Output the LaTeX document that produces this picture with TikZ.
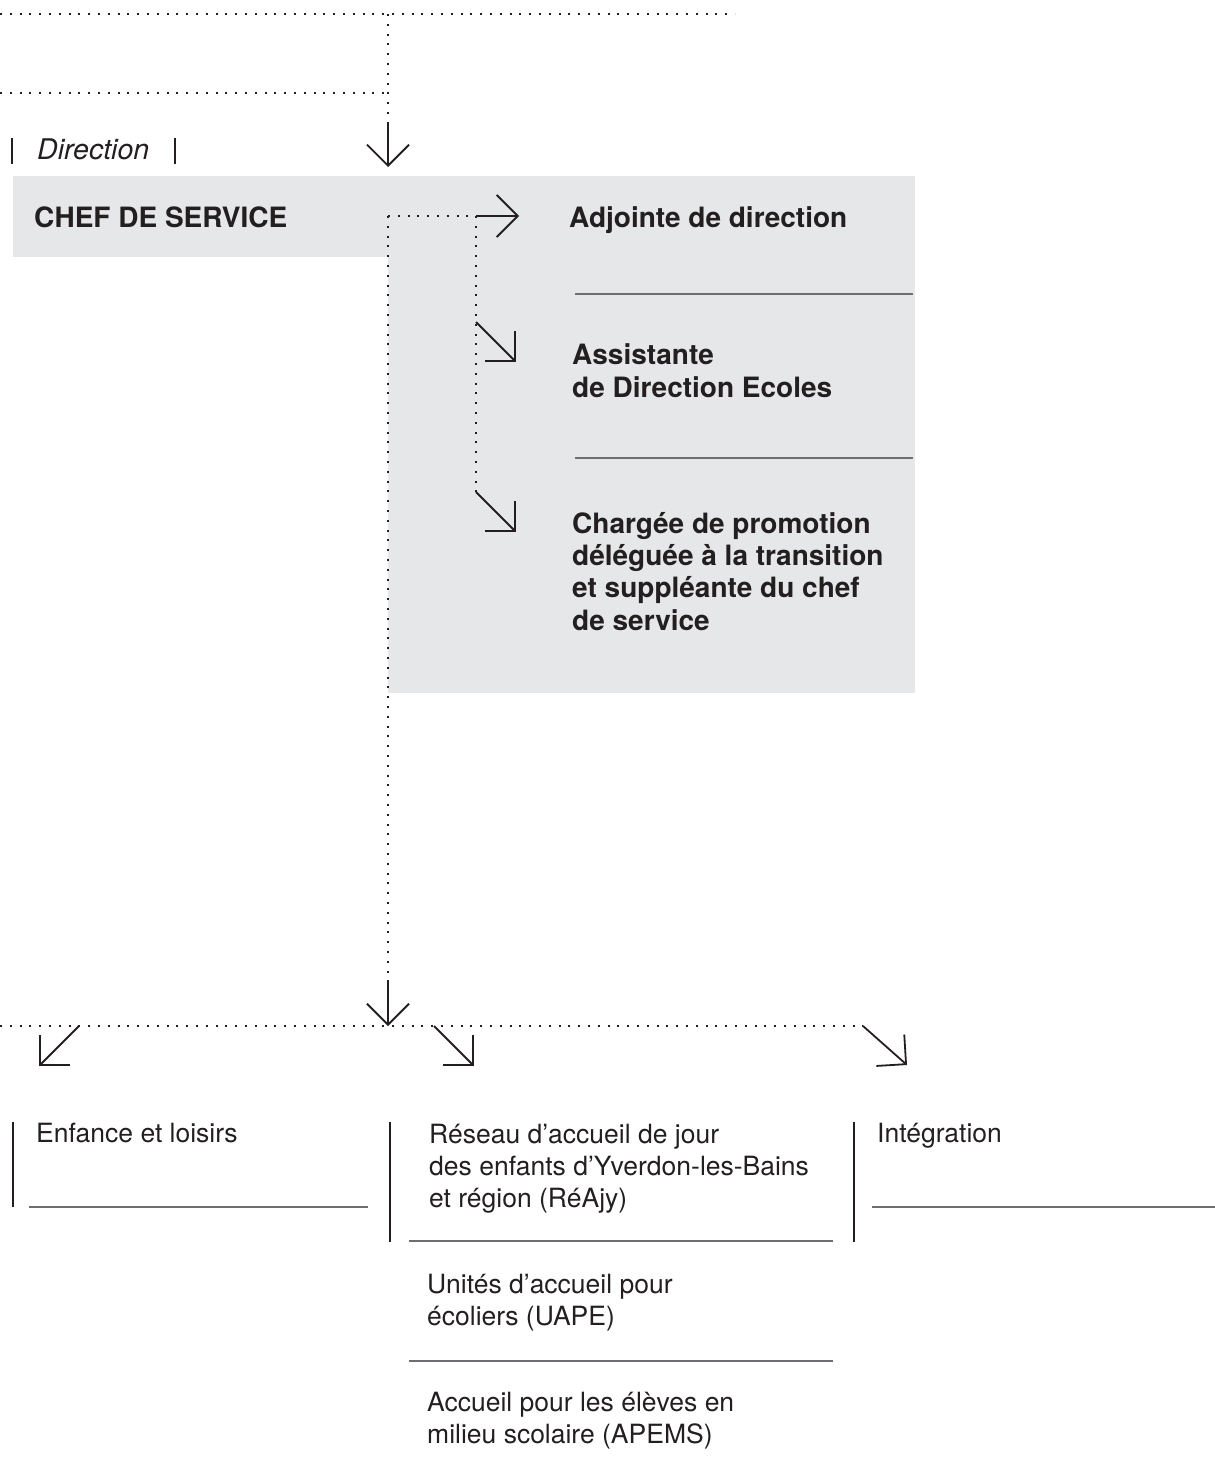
\documentclass[tikz,border=0pt]{standalone}
\usepackage{fontspec}
\setmainfont{TeX Gyre Heros}
\usetikzlibrary{arrows.meta}
\definecolor{ink}{HTML}{231F20}
\definecolor{panel}{HTML}{E6E7E8}
\definecolor{rulegray}{HTML}{6D6E71}
\newcommand{\regtext}{\fontsize{26.5}{32}\selectfont}
\newcommand{\boldtext}{\fontsize{28}{32.3}\selectfont\bfseries}

\begin{document}
\begin{tikzpicture}[x=1pt,y=-1pt,
    lbl/.style={anchor=base west,inner sep=0pt,align=left,text=ink,font=\regtext},
    head/.style={lbl,font=\boldtext},
    dots/.style={draw=ink,line width=2pt,dash pattern=on 2pt off 7.8pt},
    arr/.style={draw=ink,line width=1.8pt,-{Straight Barb[length=21pt,width=42pt]}},
    rule/.style={draw=rulegray,line width=1.8pt},
    bar/.style={draw=ink,line width=1.2pt}]
  \useasboundingbox (0,0) rectangle (1215,1478);
  % grey panels
  \fill[panel] (13,176) rectangle (388,257);
  \fill[panel] (388,176) rectangle (915,693);

  % direction (base anchor = last line of a node)
  \node[lbl,font=\fontsize{28.5}{32}\selectfont\itshape] (dir) at (37,159) {Direction};
  \draw[bar] (12,138) -- (12,164);
  \draw[bar] (175,138) -- (175,164);
  \node[head] (chef) at (34,227) {CHEF DE SERVICE};
  \node[head] (adj) at (569,227) {Adjointe de direction};
  \node[head] (asst) at (572,397) {Assistante\\de Direction Ecoles};
  \node[head] (charg) at (572,630) {Chargée de promotion\\déléguée à la transition\\et suppléante du chef\\de service};
  \draw[rule] (575,294) -- (913,294);
  \draw[rule] (575,458) -- (913,458);

  % services
  \node[lbl] (enf) at (36,1142) {Enfance et loisirs};
  \node[lbl] (reajy) at (429,1207) {Réseau d’accueil de jour\\des enfants d’Yverdon-les-Bains\\et région (RéAjy)};
  \node[lbl] (uape) at (427,1325) {Unités d’accueil pour\\écoliers (UAPE)};
  \node[lbl] (apems) at (427,1443) {Accueil pour les élèves en\\milieu scolaire (APEMS)};
  \node[lbl] (integ) at (877,1142) {Intégration};
  \draw[bar] (13,1122) -- (13,1207);
  \draw[bar] (390,1122) -- (390,1242);
  \draw[bar] (854,1122) -- (854,1242);
  \draw[rule] (29,1207) -- (368,1207);
  \draw[rule] (409,1241) -- (833,1241);
  \draw[rule] (409,1361) -- (833,1361);
  \draw[rule] (872,1207) -- (1215,1207);

  % connectors
  \coordinate (top0) at (0,14);
  \coordinate (top1) at (735,14);
  \coordinate (topj) at (388,14);
  \coordinate (mid0) at (0,93);
  \coordinate (midj) at (388,93);
  \coordinate (in0) at (388,122);
  \coordinate (in1) at (388,167);
  \coordinate (hub) at (388,216);
  \coordinate (tee) at (476,216);
  \coordinate (adjarr) at (519,216);
  \coordinate (asst0) at (476,322);
  \coordinate (asst1) at (516,362);
  \coordinate (charg0) at (476,492);
  \coordinate (charg1) at (516,532);
  \coordinate (down0) at (388,981);
  \coordinate (down1) at (388,1026);
  \coordinate (row0) at (0,1026);
  \coordinate (row1) at (863,1026);
  \coordinate (enf0) at (79,1026);
  \coordinate (reajy0) at (434,1026);

  \draw[dots] (top0) -- (top1);
  \draw[dots] (mid0) -- (midj);
  \draw[dots] (topj) -- (in0);
  \draw[arr] (in0) -- (in1);
  \draw[dots] (hub) -- (tee);
  \draw[arr] (tee) -- (adjarr);
  \draw[dots] (tee) -- (charg0);
  \draw[arr] (asst0) -- (asst1);
  \draw[arr] (charg0) -- (charg1);
  \draw[dots] (hub) -- (down0);
  \draw[arr] (down0) -- (down1);
  \draw[dots] (row0) -- (row1);
  \draw[arr] (enf0) -- ++(-40,40);
  \draw[arr] (reajy0) -- ++(40,40);
  \draw[arr] (row1) -- ++(44,39);
\end{tikzpicture}
\end{document}
